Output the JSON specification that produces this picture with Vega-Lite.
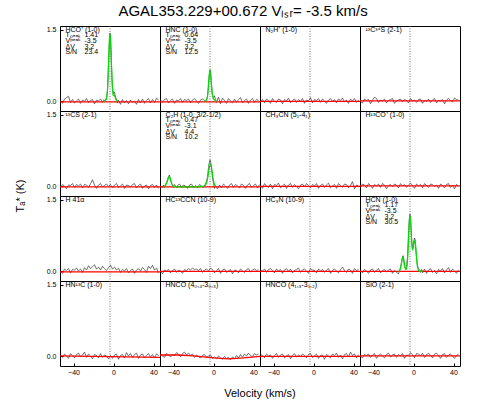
{
"$schema":"https://vega.github.io/schema/vega-lite/v6.json",
"background":"white",
"padding":{"left":15,"top":4,"right":5,"bottom":5},
"bounds":"flush",
"title":{"text":"AGAL353.229+00.672  Vₗₛᵣ= -3.5 km/s","fontSize":15,"font":"Liberation Sans","fontWeight":"normal","anchor":"middle","dx":4,"color":"#000","offset":6},
"data":{"values":[
{"p":0,"v":-53,"t":0.02},{"p":0,"v":-51,"t":-0.04},{"p":0,"v":-49,"t":0.05},{"p":0,"v":-47,"t":0.08},{"p":0,"v":-45,"t":0.11},{"p":0,"v":-43,"t":-0.02},{"p":0,"v":-41,"t":0.04},{"p":0,"v":-39,"t":-0.03},{"p":0,"v":-37,"t":0.01},{"p":0,"v":-35,"t":0.05},{"p":0,"v":-33,"t":-0.04},{"p":0,"v":-31,"t":0.03},{"p":0,"v":-29,"t":0.0},{"p":0,"v":-27,"t":0.06},{"p":0,"v":-25,"t":-0.03},{"p":0,"v":-23,"t":0.02},{"p":0,"v":-21,"t":0.04},{"p":0,"v":-19,"t":-0.05},{"p":0,"v":-17,"t":0.03},{"p":0,"v":-15,"t":0.01},{"p":0,"v":-13,"t":0.05},
{"p":0,"v":-11,"t":-0.02},{"p":0,"v":-10,"t":0.03},{"p":0,"v":-9,"t":0.01},{"p":0,"v":-8,"t":0.04},{"p":0,"v":-7,"t":0.08},{"p":0,"v":-6,"t":0.22},{"p":0,"v":-5.5,"t":0.45},{"p":0,"v":-5,"t":0.78},{"p":0,"v":-4.5,"t":1.05},{"p":0,"v":-4,"t":1.33},{"p":0,"v":-3.5,"t":1.43},{"p":0,"v":-3,"t":1.3},{"p":0,"v":-2.5,"t":1.06},{"p":0,"v":-2,"t":0.74},{"p":0,"v":-1.5,"t":0.47},{"p":0,"v":-1,"t":0.28},{"p":0,"v":0,"t":0.16},{"p":0,"v":1,"t":0.2},{"p":0,"v":2,"t":0.09},{"p":0,"v":3,"t":0.05},{"p":0,"v":4,"t":-0.03},{"p":0,"v":5,"t":0.02},
{"p":0,"v":7,"t":-0.06},{"p":0,"v":9,"t":0.04},{"p":0,"v":11,"t":-0.03},{"p":0,"v":13,"t":0.02},{"p":0,"v":15,"t":-0.05},{"p":0,"v":17,"t":0.03},{"p":0,"v":19,"t":-0.02},{"p":0,"v":21,"t":0.01},{"p":0,"v":23,"t":-0.06},{"p":0,"v":25,"t":0.04},{"p":0,"v":27,"t":-0.03},{"p":0,"v":29,"t":0.05},{"p":0,"v":31,"t":-0.04},{"p":0,"v":33,"t":0.02},{"p":0,"v":35,"t":0.06},{"p":0,"v":37,"t":-0.03},{"p":0,"v":39,"t":0.04},{"p":0,"v":41,"t":-0.02},{"p":0,"v":43,"t":0.07},{"p":0,"v":45,"t":0.03},
{"p":0,"v":-10,"f":0.0},{"p":0,"v":-9,"f":0.01},{"p":0,"v":-8,"f":0.02},{"p":0,"v":-7,"f":0.05},{"p":0,"v":-6.5,"f":0.12},{"p":0,"v":-6,"f":0.26},{"p":0,"v":-5.5,"f":0.48},{"p":0,"v":-5,"f":0.77},{"p":0,"v":-4.5,"f":1.07},{"p":0,"v":-4,"f":1.32},{"p":0,"v":-3.5,"f":1.41},{"p":0,"v":-3,"f":1.32},{"p":0,"v":-2.5,"f":1.07},{"p":0,"v":-2,"f":0.77},{"p":0,"v":-1.5,"f":0.48},{"p":0,"v":-1,"f":0.26},{"p":0,"v":-0.5,"f":0.15},{"p":0,"v":0,"f":0.12},{"p":0,"v":0.5,"f":0.12},{"p":0,"v":1,"f":0.13},{"p":0,"v":1.5,"f":0.1},{"p":0,"v":2,"f":0.06},{"p":0,"v":3,"f":0.02},{"p":0,"v":4,"f":0.0},

{"p":1,"v":-53,"t":0.03},{"p":1,"v":-51,"t":-0.02},{"p":1,"v":-49,"t":0.04},{"p":1,"v":-47,"t":0.06},{"p":1,"v":-45,"t":-0.03},{"p":1,"v":-43,"t":0.02},{"p":1,"v":-41,"t":0.05},{"p":1,"v":-39,"t":-0.04},{"p":1,"v":-37,"t":0.03},{"p":1,"v":-35,"t":0.01},{"p":1,"v":-33,"t":0.06},{"p":1,"v":-31,"t":-0.02},{"p":1,"v":-29,"t":0.04},{"p":1,"v":-27,"t":0.02},{"p":1,"v":-25,"t":0.05},{"p":1,"v":-23,"t":-0.03},{"p":1,"v":-21,"t":0.03},{"p":1,"v":-19,"t":0.06},{"p":1,"v":-17,"t":0.01},{"p":1,"v":-15,"t":-0.04},{"p":1,"v":-13,"t":0.03},{"p":1,"v":-11,"t":0.05},
{"p":1,"v":-9,"t":0.02},{"p":1,"v":-8,"t":-0.01},{"p":1,"v":-7,"t":0.04},{"p":1,"v":-6,"t":0.1},{"p":1,"v":-5.5,"t":0.2},{"p":1,"v":-5,"t":0.34},{"p":1,"v":-4.5,"t":0.49},{"p":1,"v":-4,"t":0.6},{"p":1,"v":-3.5,"t":0.66},{"p":1,"v":-3,"t":0.58},{"p":1,"v":-2.5,"t":0.47},{"p":1,"v":-2,"t":0.33},{"p":1,"v":-1.5,"t":0.21},{"p":1,"v":-1,"t":0.13},{"p":1,"v":0,"t":0.08},{"p":1,"v":1,"t":0.12},{"p":1,"v":2,"t":0.04},{"p":1,"v":3,"t":-0.02},
{"p":1,"v":5,"t":0.09},{"p":1,"v":7,"t":-0.05},{"p":1,"v":9,"t":0.07},{"p":1,"v":11,"t":0.02},{"p":1,"v":13,"t":-0.04},{"p":1,"v":15,"t":0.06},{"p":1,"v":17,"t":0.01},{"p":1,"v":19,"t":-0.03},{"p":1,"v":21,"t":0.05},{"p":1,"v":23,"t":-0.02},{"p":1,"v":25,"t":0.04},{"p":1,"v":27,"t":0.08},{"p":1,"v":29,"t":-0.03},{"p":1,"v":31,"t":0.02},{"p":1,"v":33,"t":0.05},{"p":1,"v":35,"t":-0.04},{"p":1,"v":37,"t":0.03},{"p":1,"v":39,"t":0.06},{"p":1,"v":41,"t":-0.02},{"p":1,"v":43,"t":0.04},{"p":1,"v":45,"t":0.02},
{"p":1,"v":-9,"f":0.0},{"p":1,"v":-8,"f":0.01},{"p":1,"v":-7,"f":0.03},{"p":1,"v":-6.5,"f":0.05},{"p":1,"v":-6,"f":0.12},{"p":1,"v":-5.5,"f":0.22},{"p":1,"v":-5,"f":0.35},{"p":1,"v":-4.5,"f":0.49},{"p":1,"v":-4,"f":0.6},{"p":1,"v":-3.5,"f":0.64},{"p":1,"v":-3,"f":0.6},{"p":1,"v":-2.5,"f":0.49},{"p":1,"v":-2,"f":0.35},{"p":1,"v":-1.5,"f":0.22},{"p":1,"v":-1,"f":0.12},{"p":1,"v":-0.5,"f":0.07},{"p":1,"v":0,"f":0.05},{"p":1,"v":1,"f":0.04},{"p":1,"v":2,"f":0.01},{"p":1,"v":3,"f":0.0},

{"p":2,"v":-53,"t":0.01},{"p":2,"v":-51,"t":0.04},{"p":2,"v":-49,"t":-0.03},{"p":2,"v":-47,"t":0.05},{"p":2,"v":-45,"t":0.02},{"p":2,"v":-43,"t":-0.04},{"p":2,"v":-41,"t":0.06},{"p":2,"v":-39,"t":0.0},{"p":2,"v":-37,"t":-0.02},{"p":2,"v":-35,"t":0.05},{"p":2,"v":-33,"t":0.03},{"p":2,"v":-31,"t":-0.05},{"p":2,"v":-29,"t":0.04},{"p":2,"v":-27,"t":0.01},{"p":2,"v":-25,"t":0.07},{"p":2,"v":-23,"t":-0.03},{"p":2,"v":-21,"t":0.02},{"p":2,"v":-19,"t":0.05},{"p":2,"v":-17,"t":-0.02},{"p":2,"v":-15,"t":0.04},{"p":2,"v":-13,"t":0.0},{"p":2,"v":-11,"t":0.06},{"p":2,"v":-9,"t":-0.04},{"p":2,"v":-7,"t":0.03},{"p":2,"v":-5,"t":0.01},{"p":2,"v":-3,"t":0.08},{"p":2,"v":-1,"t":-0.03},{"p":2,"v":1,"t":0.04},{"p":2,"v":3,"t":0.02},{"p":2,"v":5,"t":0.06},{"p":2,"v":7,"t":-0.02},{"p":2,"v":9,"t":0.05},{"p":2,"v":11,"t":0.01},{"p":2,"v":13,"t":-0.04},{"p":2,"v":15,"t":0.03},{"p":2,"v":17,"t":0.06},{"p":2,"v":19,"t":0.0},{"p":2,"v":21,"t":0.04},{"p":2,"v":23,"t":-0.03},{"p":2,"v":25,"t":0.05},{"p":2,"v":27,"t":0.02},{"p":2,"v":29,"t":0.07},{"p":2,"v":31,"t":-0.01},{"p":2,"v":33,"t":0.03},{"p":2,"v":35,"t":-0.04},{"p":2,"v":37,"t":0.05},{"p":2,"v":39,"t":0.01},{"p":2,"v":41,"t":0.06},{"p":2,"v":43,"t":-0.02},{"p":2,"v":45,"t":0.03},

{"p":3,"v":-53,"t":0.0},{"p":3,"v":-51,"t":-0.03},{"p":3,"v":-49,"t":0.05},{"p":3,"v":-47,"t":0.02},{"p":3,"v":-45,"t":0.04},{"p":3,"v":-43,"t":-0.05},{"p":3,"v":-41,"t":0.03},{"p":3,"v":-39,"t":0.09},{"p":3,"v":-37,"t":0.06},{"p":3,"v":-35,"t":-0.02},{"p":3,"v":-33,"t":0.03},{"p":3,"v":-31,"t":0.01},{"p":3,"v":-29,"t":0.05},{"p":3,"v":-27,"t":-0.03},{"p":3,"v":-25,"t":0.02},{"p":3,"v":-23,"t":0.04},{"p":3,"v":-21,"t":0.06},{"p":3,"v":-19,"t":-0.04},{"p":3,"v":-17,"t":0.01},{"p":3,"v":-15,"t":0.03},{"p":3,"v":-13,"t":0.05},{"p":3,"v":-11,"t":-0.01},{"p":3,"v":-9,"t":0.04},{"p":3,"v":-7,"t":0.02},{"p":3,"v":-5,"t":-0.03},{"p":3,"v":-3,"t":0.06},{"p":3,"v":-1,"t":0.01},{"p":3,"v":1,"t":0.03},{"p":3,"v":3,"t":-0.02},{"p":3,"v":5,"t":0.04},{"p":3,"v":7,"t":0.05},{"p":3,"v":9,"t":-0.04},{"p":3,"v":11,"t":0.02},{"p":3,"v":13,"t":0.0},{"p":3,"v":15,"t":0.05},{"p":3,"v":17,"t":-0.02},{"p":3,"v":19,"t":0.03},{"p":3,"v":21,"t":0.06},{"p":3,"v":23,"t":-0.03},{"p":3,"v":25,"t":0.02},{"p":3,"v":27,"t":0.01},{"p":3,"v":29,"t":0.04},{"p":3,"v":31,"t":-0.05},{"p":3,"v":33,"t":0.03},{"p":3,"v":35,"t":0.06},{"p":3,"v":37,"t":0.02},{"p":3,"v":39,"t":-0.01},{"p":3,"v":41,"t":0.07},{"p":3,"v":43,"t":0.04},{"p":3,"v":45,"t":0.03},

{"p":4,"v":-53,"t":-0.03},{"p":4,"v":-51,"t":0.04},{"p":4,"v":-49,"t":0.01},{"p":4,"v":-47,"t":-0.05},{"p":4,"v":-45,"t":0.03},{"p":4,"v":-43,"t":0.02},{"p":4,"v":-41,"t":0.06},{"p":4,"v":-39,"t":-0.02},{"p":4,"v":-37,"t":0.04},{"p":4,"v":-35,"t":0.01},{"p":4,"v":-33,"t":0.05},{"p":4,"v":-31,"t":-0.03},{"p":4,"v":-29,"t":0.04},{"p":4,"v":-27,"t":0.03},{"p":4,"v":-25,"t":-0.02},{"p":4,"v":-23,"t":0.06},{"p":4,"v":-21,"t":0.14},{"p":4,"v":-19,"t":0.03},{"p":4,"v":-17,"t":-0.04},{"p":4,"v":-15,"t":0.03},{"p":4,"v":-13,"t":0.06},{"p":4,"v":-11,"t":-0.01},{"p":4,"v":-9,"t":0.02},{"p":4,"v":-7,"t":0.05},{"p":4,"v":-5,"t":0.0},{"p":4,"v":-3,"t":0.04},{"p":4,"v":-1,"t":-0.03},{"p":4,"v":1,"t":0.03},{"p":4,"v":3,"t":0.06},{"p":4,"v":5,"t":-0.02},{"p":4,"v":7,"t":0.01},{"p":4,"v":9,"t":0.05},{"p":4,"v":11,"t":-0.04},{"p":4,"v":13,"t":0.03},{"p":4,"v":15,"t":0.02},{"p":4,"v":17,"t":-0.01},{"p":4,"v":19,"t":0.04},{"p":4,"v":21,"t":0.06},{"p":4,"v":23,"t":-0.03},{"p":4,"v":25,"t":0.02},{"p":4,"v":27,"t":0.05},{"p":4,"v":29,"t":-0.04},{"p":4,"v":31,"t":0.01},{"p":4,"v":33,"t":0.03},{"p":4,"v":35,"t":-0.05},{"p":4,"v":37,"t":0.02},{"p":4,"v":39,"t":0.04},{"p":4,"v":41,"t":-0.02},{"p":4,"v":43,"t":0.03},{"p":4,"v":45,"t":-0.04},

{"p":5,"v":-53,"t":0.02},{"p":5,"v":-51,"t":-0.03},{"p":5,"v":-50,"t":0.03},{"p":5,"v":-49,"t":-0.02},{"p":5,"v":-48,"t":0.04},{"p":5,"v":-47,"t":0.08},{"p":5,"v":-46,"t":0.14},{"p":5,"v":-45,"t":0.21},{"p":5,"v":-44,"t":0.24},{"p":5,"v":-43,"t":0.15},{"p":5,"v":-42,"t":0.07},{"p":5,"v":-41,"t":0.03},{"p":5,"v":-40,"t":-0.02},{"p":5,"v":-39,"t":0.04},{"p":5,"v":-38,"t":0.01},{"p":5,"v":-37,"t":-0.03},{"p":5,"v":-36,"t":0.02},{"p":5,"v":-34,"t":0.05},{"p":5,"v":-32,"t":-0.02},{"p":5,"v":-30,"t":0.03},{"p":5,"v":-28,"t":0.01},{"p":5,"v":-26,"t":-0.04},{"p":5,"v":-24,"t":0.03},{"p":5,"v":-22,"t":0.05},{"p":5,"v":-20,"t":-0.02},{"p":5,"v":-18,"t":0.02},{"p":5,"v":-16,"t":-0.03},{"p":5,"v":-14,"t":0.04},{"p":5,"v":-12,"t":0.01},
{"p":5,"v":-10,"t":-0.02},{"p":5,"v":-9,"t":0.03},{"p":5,"v":-8,"t":0.05},{"p":5,"v":-7,"t":0.1},{"p":5,"v":-6,"t":0.21},{"p":5,"v":-5.5,"t":0.3},{"p":5,"v":-5,"t":0.4},{"p":5,"v":-4.5,"t":0.47},{"p":5,"v":-4,"t":0.52},{"p":5,"v":-3.5,"t":0.56},{"p":5,"v":-3,"t":0.54},{"p":5,"v":-2.5,"t":0.46},{"p":5,"v":-2,"t":0.37},{"p":5,"v":-1.5,"t":0.27},{"p":5,"v":-1,"t":0.18},{"p":5,"v":0,"t":0.07},{"p":5,"v":1,"t":-0.04},{"p":5,"v":2,"t":0.02},
{"p":5,"v":4,"t":-0.05},{"p":5,"v":6,"t":0.03},{"p":5,"v":8,"t":-0.03},{"p":5,"v":10,"t":0.05},{"p":5,"v":12,"t":0.01},{"p":5,"v":14,"t":-0.04},{"p":5,"v":16,"t":0.03},{"p":5,"v":18,"t":0.06},{"p":5,"v":20,"t":-0.02},{"p":5,"v":22,"t":0.04},{"p":5,"v":24,"t":0.01},{"p":5,"v":26,"t":-0.03},{"p":5,"v":28,"t":0.05},{"p":5,"v":30,"t":0.02},{"p":5,"v":32,"t":-0.04},{"p":5,"v":34,"t":0.03},{"p":5,"v":36,"t":0.06},{"p":5,"v":38,"t":-0.02},{"p":5,"v":40,"t":0.02},{"p":5,"v":42,"t":0.05},{"p":5,"v":44,"t":-0.03},{"p":5,"v":46,"t":0.04},
{"p":5,"v":-50,"f":0.0},{"p":5,"v":-48,"f":0.02},{"p":5,"v":-47,"f":0.06},{"p":5,"v":-46,"f":0.12},{"p":5,"v":-45,"f":0.18},{"p":5,"v":-44.5,"f":0.2},{"p":5,"v":-44,"f":0.2},{"p":5,"v":-43.5,"f":0.18},{"p":5,"v":-43,"f":0.14},{"p":5,"v":-42,"f":0.07},{"p":5,"v":-41,"f":0.02},{"p":5,"v":-40,"f":0.0},{"p":5,"v":-36,"f":-0.01},{"p":5,"v":-20,"f":-0.01},{"p":5,"v":-10,"f":0.0},{"p":5,"v":-8,"f":0.03},{"p":5,"v":-7,"f":0.07},{"p":5,"v":-6,"f":0.15},{"p":5,"v":-5.5,"f":0.21},{"p":5,"v":-5,"f":0.28},{"p":5,"v":-4.5,"f":0.35},{"p":5,"v":-4,"f":0.41},{"p":5,"v":-3.5,"f":0.45},{"p":5,"v":-3.1,"f":0.47},{"p":5,"v":-2.5,"f":0.45},{"p":5,"v":-2,"f":0.4},{"p":5,"v":-1.5,"f":0.33},{"p":5,"v":-1,"f":0.25},{"p":5,"v":-0.5,"f":0.18},{"p":5,"v":0,"f":0.12},{"p":5,"v":1,"f":0.04},{"p":5,"v":2,"f":0.0},

{"p":6,"v":-53,"t":0.03},{"p":6,"v":-51,"t":-0.04},{"p":6,"v":-49,"t":0.06},{"p":6,"v":-47,"t":0.01},{"p":6,"v":-45,"t":-0.02},{"p":6,"v":-43,"t":0.05},{"p":6,"v":-41,"t":-0.05},{"p":6,"v":-39,"t":0.04},{"p":6,"v":-37,"t":0.02},{"p":6,"v":-35,"t":0.07},{"p":6,"v":-33,"t":-0.03},{"p":6,"v":-31,"t":0.01},{"p":6,"v":-29,"t":0.05},{"p":6,"v":-27,"t":-0.04},{"p":6,"v":-25,"t":0.03},{"p":6,"v":-23,"t":0.06},{"p":6,"v":-21,"t":-0.02},{"p":6,"v":-19,"t":0.04},{"p":6,"v":-17,"t":0.0},{"p":6,"v":-15,"t":-0.05},{"p":6,"v":-13,"t":0.03},{"p":6,"v":-11,"t":0.05},{"p":6,"v":-9,"t":-0.01},{"p":6,"v":-7,"t":0.06},{"p":6,"v":-5,"t":0.02},{"p":6,"v":-3,"t":-0.03},{"p":6,"v":-1,"t":0.04},{"p":6,"v":1,"t":0.01},{"p":6,"v":3,"t":0.06},{"p":6,"v":5,"t":-0.04},{"p":6,"v":7,"t":0.02},{"p":6,"v":9,"t":0.05},{"p":6,"v":11,"t":-0.02},{"p":6,"v":13,"t":0.03},{"p":6,"v":15,"t":0.07},{"p":6,"v":17,"t":-0.03},{"p":6,"v":19,"t":0.01},{"p":6,"v":21,"t":0.04},{"p":6,"v":23,"t":-0.04},{"p":6,"v":25,"t":0.06},{"p":6,"v":27,"t":0.02},{"p":6,"v":29,"t":-0.02},{"p":6,"v":31,"t":0.05},{"p":6,"v":33,"t":0.04},{"p":6,"v":35,"t":-0.03},{"p":6,"v":37,"t":0.02},{"p":6,"v":39,"t":0.1},{"p":6,"v":41,"t":-0.05},{"p":6,"v":43,"t":0.03},{"p":6,"v":45,"t":0.01},

{"p":7,"v":-53,"t":-0.02},{"p":7,"v":-51,"t":0.05},{"p":7,"v":-49,"t":0.03},{"p":7,"v":-47,"t":-0.03},{"p":7,"v":-45,"t":0.06},{"p":7,"v":-43,"t":0.02},{"p":7,"v":-41,"t":-0.04},{"p":7,"v":-39,"t":0.04},{"p":7,"v":-37,"t":0.01},{"p":7,"v":-35,"t":0.05},{"p":7,"v":-33,"t":-0.02},{"p":7,"v":-31,"t":0.06},{"p":7,"v":-29,"t":0.03},{"p":7,"v":-27,"t":-0.05},{"p":7,"v":-25,"t":0.02},{"p":7,"v":-23,"t":0.04},{"p":7,"v":-21,"t":-0.01},{"p":7,"v":-19,"t":0.05},{"p":7,"v":-17,"t":0.03},{"p":7,"v":-15,"t":-0.03},{"p":7,"v":-13,"t":0.06},{"p":7,"v":-11,"t":0.01},{"p":7,"v":-9,"t":0.04},{"p":7,"v":-7,"t":-0.02},{"p":7,"v":-5,"t":0.03},{"p":7,"v":-3,"t":0.07},{"p":7,"v":-1,"t":0.02},{"p":7,"v":1,"t":-0.04},{"p":7,"v":3,"t":0.05},{"p":7,"v":5,"t":0.01},{"p":7,"v":7,"t":0.04},{"p":7,"v":9,"t":-0.03},{"p":7,"v":11,"t":0.06},{"p":7,"v":13,"t":0.02},{"p":7,"v":15,"t":-0.02},{"p":7,"v":17,"t":0.05},{"p":7,"v":19,"t":0.04},{"p":7,"v":21,"t":0.0},{"p":7,"v":23,"t":0.03},{"p":7,"v":25,"t":-0.04},{"p":7,"v":27,"t":0.05},{"p":7,"v":29,"t":0.02},{"p":7,"v":31,"t":-0.03},{"p":7,"v":33,"t":0.04},{"p":7,"v":35,"t":0.06},{"p":7,"v":37,"t":-0.02},{"p":7,"v":39,"t":0.03},{"p":7,"v":41,"t":-0.05},{"p":7,"v":43,"t":0.04},{"p":7,"v":45,"t":0.01},

{"p":8,"v":-53,"t":0.01},{"p":8,"v":-51,"t":-0.04},{"p":8,"v":-49,"t":0.05},{"p":8,"v":-47,"t":0.02},{"p":8,"v":-45,"t":0.06},{"p":8,"v":-43,"t":-0.03},{"p":8,"v":-41,"t":0.04},{"p":8,"v":-39,"t":0.03},{"p":8,"v":-37,"t":0.07},{"p":8,"v":-35,"t":0.01},{"p":8,"v":-33,"t":0.05},{"p":8,"v":-31,"t":-0.02},{"p":8,"v":-29,"t":0.08},{"p":8,"v":-27,"t":0.03},{"p":8,"v":-25,"t":0.12},{"p":8,"v":-23,"t":0.06},{"p":8,"v":-21,"t":0.1},{"p":8,"v":-19,"t":0.14},{"p":8,"v":-17,"t":0.05},{"p":8,"v":-15,"t":0.09},{"p":8,"v":-13,"t":0.03},{"p":8,"v":-11,"t":0.11},{"p":8,"v":-9,"t":0.06},{"p":8,"v":-7,"t":0.02},{"p":8,"v":-5,"t":0.08},{"p":8,"v":-3,"t":0.13},{"p":8,"v":-1,"t":0.05},{"p":8,"v":1,"t":0.09},{"p":8,"v":3,"t":0.03},{"p":8,"v":5,"t":0.07},{"p":8,"v":7,"t":-0.02},{"p":8,"v":9,"t":0.04},{"p":8,"v":11,"t":0.01},{"p":8,"v":13,"t":0.06},{"p":8,"v":15,"t":-0.03},{"p":8,"v":17,"t":0.02},{"p":8,"v":19,"t":0.05},{"p":8,"v":21,"t":-0.04},{"p":8,"v":23,"t":0.03},{"p":8,"v":25,"t":0.06},{"p":8,"v":27,"t":0.01},{"p":8,"v":29,"t":0.08},{"p":8,"v":31,"t":0.04},{"p":8,"v":33,"t":-0.02},{"p":8,"v":35,"t":0.11},{"p":8,"v":37,"t":0.06},{"p":8,"v":39,"t":0.13},{"p":8,"v":41,"t":0.03},{"p":8,"v":43,"t":0.07},{"p":8,"v":45,"t":-0.03},

{"p":9,"v":-53,"t":0.02},{"p":9,"v":-51,"t":-0.05},{"p":9,"v":-49,"t":0.03},{"p":9,"v":-47,"t":0.01},{"p":9,"v":-45,"t":0.04},{"p":9,"v":-43,"t":-0.03},{"p":9,"v":-41,"t":0.02},{"p":9,"v":-39,"t":0.05},{"p":9,"v":-37,"t":-0.02},{"p":9,"v":-35,"t":0.03},{"p":9,"v":-33,"t":0.01},{"p":9,"v":-31,"t":-0.04},{"p":9,"v":-29,"t":0.04},{"p":9,"v":-27,"t":0.02},{"p":9,"v":-25,"t":0.06},{"p":9,"v":-23,"t":0.03},{"p":9,"v":-21,"t":0.07},{"p":9,"v":-19,"t":0.04},{"p":9,"v":-17,"t":0.05},{"p":9,"v":-15,"t":0.02},{"p":9,"v":-13,"t":0.06},{"p":9,"v":-11,"t":-0.02},{"p":9,"v":-9,"t":0.03},{"p":9,"v":-7,"t":0.05},{"p":9,"v":-5,"t":0.01},{"p":9,"v":-3,"t":0.07},{"p":9,"v":-1,"t":0.04},{"p":9,"v":1,"t":-0.03},{"p":9,"v":3,"t":0.02},{"p":9,"v":5,"t":0.06},{"p":9,"v":7,"t":-0.04},{"p":9,"v":9,"t":0.03},{"p":9,"v":11,"t":0.05},{"p":9,"v":13,"t":-0.02},{"p":9,"v":15,"t":0.01},{"p":9,"v":17,"t":0.04},{"p":9,"v":19,"t":-0.05},{"p":9,"v":21,"t":0.03},{"p":9,"v":23,"t":0.02},{"p":9,"v":25,"t":-0.03},{"p":9,"v":27,"t":0.05},{"p":9,"v":29,"t":0.01},{"p":9,"v":31,"t":-0.02},{"p":9,"v":33,"t":0.04},{"p":9,"v":35,"t":0.06},{"p":9,"v":37,"t":-0.01},{"p":9,"v":39,"t":0.03},{"p":9,"v":41,"t":0.05},{"p":9,"v":43,"t":0.02},{"p":9,"v":45,"t":0.04},

{"p":10,"v":-53,"t":0.03},{"p":10,"v":-51,"t":0.01},{"p":10,"v":-49,"t":0.05},{"p":10,"v":-47,"t":-0.02},{"p":10,"v":-45,"t":0.04},{"p":10,"v":-43,"t":0.06},{"p":10,"v":-41,"t":0.02},{"p":10,"v":-39,"t":-0.03},{"p":10,"v":-37,"t":0.05},{"p":10,"v":-35,"t":0.01},{"p":10,"v":-33,"t":0.04},{"p":10,"v":-31,"t":-0.04},{"p":10,"v":-29,"t":0.03},{"p":10,"v":-27,"t":0.06},{"p":10,"v":-25,"t":0.0},{"p":10,"v":-23,"t":0.05},{"p":10,"v":-21,"t":-0.03},{"p":10,"v":-19,"t":0.02},{"p":10,"v":-17,"t":0.04},{"p":10,"v":-15,"t":0.07},{"p":10,"v":-13,"t":-0.02},{"p":10,"v":-11,"t":0.03},{"p":10,"v":-9,"t":0.05},{"p":10,"v":-7,"t":0.01},{"p":10,"v":-5,"t":-0.04},{"p":10,"v":-3,"t":0.06},{"p":10,"v":-1,"t":0.03},{"p":10,"v":1,"t":0.02},{"p":10,"v":3,"t":-0.03},{"p":10,"v":5,"t":0.05},{"p":10,"v":7,"t":0.01},{"p":10,"v":9,"t":0.04},{"p":10,"v":11,"t":-0.02},{"p":10,"v":13,"t":0.03},{"p":10,"v":15,"t":0.06},{"p":10,"v":17,"t":-0.04},{"p":10,"v":19,"t":0.02},{"p":10,"v":21,"t":0.05},{"p":10,"v":23,"t":0.01},{"p":10,"v":25,"t":-0.03},{"p":10,"v":27,"t":0.04},{"p":10,"v":29,"t":0.09},{"p":10,"v":31,"t":0.02},{"p":10,"v":33,"t":-0.02},{"p":10,"v":35,"t":0.05},{"p":10,"v":37,"t":0.03},{"p":10,"v":39,"t":-0.04},{"p":10,"v":41,"t":0.06},{"p":10,"v":43,"t":0.02},{"p":10,"v":45,"t":0.04},

{"p":11,"v":-53,"t":0.02},{"p":11,"v":-51,"t":-0.03},{"p":11,"v":-49,"t":0.04},{"p":11,"v":-47,"t":0.01},{"p":11,"v":-45,"t":-0.04},{"p":11,"v":-43,"t":0.03},{"p":11,"v":-41,"t":0.05},{"p":11,"v":-39,"t":-0.02},{"p":11,"v":-37,"t":0.03},{"p":11,"v":-35,"t":0.06},{"p":11,"v":-33,"t":-0.03},{"p":11,"v":-31,"t":0.02},{"p":11,"v":-29,"t":0.04},{"p":11,"v":-27,"t":-0.01},{"p":11,"v":-25,"t":0.03},{"p":11,"v":-23,"t":0.05},{"p":11,"v":-21,"t":-0.04},{"p":11,"v":-19,"t":0.02},{"p":11,"v":-17,"t":-0.02},
{"p":11,"v":-15,"t":-0.05},{"p":11,"v":-14,"t":0.02},{"p":11,"v":-13,"t":0.08},{"p":11,"v":-12,"t":0.18},{"p":11,"v":-11.5,"t":0.25},{"p":11,"v":-11,"t":0.3},{"p":11,"v":-10.5,"t":0.33},{"p":11,"v":-10,"t":0.28},{"p":11,"v":-9.5,"t":0.18},{"p":11,"v":-9,"t":0.1},{"p":11,"v":-8,"t":0.06},{"p":11,"v":-7,"t":0.1},{"p":11,"v":-6,"t":0.3},{"p":11,"v":-5.5,"t":0.55},{"p":11,"v":-5,"t":0.8},{"p":11,"v":-4.5,"t":1.0},{"p":11,"v":-4,"t":1.15},{"p":11,"v":-3.5,"t":1.2},{"p":11,"v":-3,"t":1.1},{"p":11,"v":-2.5,"t":0.92},{"p":11,"v":-2,"t":0.72},{"p":11,"v":-1.5,"t":0.56},{"p":11,"v":-1,"t":0.52},{"p":11,"v":-0.5,"t":0.55},{"p":11,"v":0,"t":0.6},{"p":11,"v":0.5,"t":0.66},{"p":11,"v":1,"t":0.7},{"p":11,"v":1.5,"t":0.68},{"p":11,"v":2,"t":0.55},{"p":11,"v":2.5,"t":0.42},{"p":11,"v":3,"t":0.3},{"p":11,"v":3.5,"t":0.2},{"p":11,"v":4,"t":0.12},{"p":11,"v":5,"t":0.06},{"p":11,"v":6,"t":0.03},{"p":11,"v":7,"t":-0.02},{"p":11,"v":8,"t":0.04},{"p":11,"v":9,"t":-0.03},
{"p":11,"v":11,"t":0.05},{"p":11,"v":13,"t":-0.04},{"p":11,"v":15,"t":0.03},{"p":11,"v":17,"t":0.06},{"p":11,"v":19,"t":-0.02},{"p":11,"v":21,"t":0.02},{"p":11,"v":23,"t":-0.05},{"p":11,"v":25,"t":0.04},{"p":11,"v":27,"t":0.01},{"p":11,"v":29,"t":0.06},{"p":11,"v":31,"t":-0.03},{"p":11,"v":33,"t":0.03},{"p":11,"v":35,"t":0.08},{"p":11,"v":37,"t":-0.02},{"p":11,"v":39,"t":0.05},{"p":11,"v":41,"t":0.01},{"p":11,"v":43,"t":-0.04},{"p":11,"v":45,"t":0.03},
{"p":11,"v":-15,"f":0.0},{"p":11,"v":-14,"f":0.01},{"p":11,"v":-13,"f":0.06},{"p":11,"v":-12.5,"f":0.11},{"p":11,"v":-12,"f":0.18},{"p":11,"v":-11.5,"f":0.24},{"p":11,"v":-11,"f":0.29},{"p":11,"v":-10.5,"f":0.3},{"p":11,"v":-10,"f":0.27},{"p":11,"v":-9.5,"f":0.22},{"p":11,"v":-9,"f":0.15},{"p":11,"v":-8.5,"f":0.09},{"p":11,"v":-8,"f":0.05},{"p":11,"v":-7.5,"f":0.04},{"p":11,"v":-7,"f":0.05},{"p":11,"v":-6.5,"f":0.11},{"p":11,"v":-6,"f":0.22},{"p":11,"v":-5.5,"f":0.4},{"p":11,"v":-5,"f":0.64},{"p":11,"v":-4.5,"f":0.89},{"p":11,"v":-4,"f":1.09},{"p":11,"v":-3.5,"f":1.17},{"p":11,"v":-3,"f":1.1},{"p":11,"v":-2.5,"f":0.91},{"p":11,"v":-2,"f":0.68},{"p":11,"v":-1.5,"f":0.52},{"p":11,"v":-1,"f":0.46},{"p":11,"v":-0.5,"f":0.47},{"p":11,"v":0,"f":0.52},{"p":11,"v":0.5,"f":0.6},{"p":11,"v":1,"f":0.64},{"p":11,"v":1.5,"f":0.64},{"p":11,"v":2,"f":0.57},{"p":11,"v":2.5,"f":0.44},{"p":11,"v":3,"f":0.3},{"p":11,"v":3.5,"f":0.18},{"p":11,"v":4,"f":0.09},{"p":11,"v":5,"f":0.02},{"p":11,"v":6,"f":0.0},{"p":11,"v":9,"f":0.0},

{"p":12,"v":-53,"t":0.03},{"p":12,"v":-51,"t":-0.02},{"p":12,"v":-49,"t":0.05},{"p":12,"v":-47,"t":0.01},{"p":12,"v":-45,"t":-0.04},{"p":12,"v":-43,"t":0.06},{"p":12,"v":-41,"t":0.02},{"p":12,"v":-39,"t":-0.03},{"p":12,"v":-37,"t":0.04},{"p":12,"v":-35,"t":0.07},{"p":12,"v":-33,"t":-0.01},{"p":12,"v":-31,"t":0.03},{"p":12,"v":-29,"t":0.09},{"p":12,"v":-27,"t":-0.02},{"p":12,"v":-25,"t":0.05},{"p":12,"v":-23,"t":0.01},{"p":12,"v":-21,"t":-0.05},{"p":12,"v":-19,"t":0.04},{"p":12,"v":-17,"t":0.02},{"p":12,"v":-15,"t":-0.03},{"p":12,"v":-13,"t":0.06},{"p":12,"v":-11,"t":-0.02},{"p":12,"v":-9,"t":0.03},{"p":12,"v":-7,"t":0.01},{"p":12,"v":-5,"t":-0.05},{"p":12,"v":-3,"t":0.02},{"p":12,"v":-1,"t":-0.04},{"p":12,"v":1,"t":0.03},{"p":12,"v":3,"t":0.05},{"p":12,"v":5,"t":-0.06},{"p":12,"v":7,"t":0.02},{"p":12,"v":9,"t":0.04},{"p":12,"v":11,"t":-0.03},{"p":12,"v":13,"t":0.08},{"p":12,"v":15,"t":0.01},{"p":12,"v":17,"t":0.06},{"p":12,"v":19,"t":-0.02},{"p":12,"v":21,"t":0.04},{"p":12,"v":23,"t":0.07},{"p":12,"v":25,"t":-0.04},{"p":12,"v":27,"t":0.03},{"p":12,"v":29,"t":0.05},{"p":12,"v":31,"t":-0.03},{"p":12,"v":33,"t":0.02},{"p":12,"v":35,"t":0.06},{"p":12,"v":37,"t":-0.01},{"p":12,"v":39,"t":0.04},{"p":12,"v":41,"t":-0.03},{"p":12,"v":43,"t":0.05},{"p":12,"v":45,"t":0.02},

{"p":13,"v":-53,"t":0.05},{"p":13,"v":-51,"t":0.01},{"p":13,"v":-49,"t":-0.02},{"p":13,"v":-47,"t":0.06},{"p":13,"v":-45,"t":0.03},{"p":13,"v":-43,"t":-0.01},{"p":13,"v":-41,"t":0.04},{"p":13,"v":-39,"t":0.02},{"p":13,"v":-37,"t":0.08},{"p":13,"v":-35,"t":0.05},{"p":13,"v":-33,"t":-0.01},{"p":13,"v":-31,"t":0.06},{"p":13,"v":-29,"t":0.09},{"p":13,"v":-27,"t":0.03},{"p":13,"v":-25,"t":0.07},{"p":13,"v":-23,"t":0.02},{"p":13,"v":-21,"t":0.05},{"p":13,"v":-19,"t":-0.02},{"p":13,"v":-17,"t":0.03},{"p":13,"v":-15,"t":0.0},{"p":13,"v":-13,"t":-0.03},{"p":13,"v":-11,"t":0.02},{"p":13,"v":-9,"t":0.04},{"p":13,"v":-7,"t":-0.02},{"p":13,"v":-5,"t":0.01},{"p":13,"v":-3,"t":0.03},{"p":13,"v":-1,"t":-0.04},{"p":13,"v":1,"t":-0.01},{"p":13,"v":3,"t":-0.05},{"p":13,"v":5,"t":0.01},{"p":13,"v":7,"t":-0.03},{"p":13,"v":9,"t":-0.06},{"p":13,"v":11,"t":0.0},{"p":13,"v":13,"t":-0.04},{"p":13,"v":15,"t":-0.02},{"p":13,"v":17,"t":-0.07},{"p":13,"v":19,"t":-0.01},{"p":13,"v":21,"t":-0.05},{"p":13,"v":23,"t":0.02},{"p":13,"v":25,"t":-0.03},{"p":13,"v":27,"t":0.04},{"p":13,"v":29,"t":-0.02},{"p":13,"v":31,"t":0.05},{"p":13,"v":33,"t":0.01},{"p":13,"v":35,"t":0.07},{"p":13,"v":37,"t":0.02},{"p":13,"v":39,"t":-0.01},{"p":13,"v":41,"t":0.06},{"p":13,"v":43,"t":0.03},{"p":13,"v":45,"t":0.05},

{"p":14,"v":-53,"t":0.04},{"p":14,"v":-51,"t":0.02},{"p":14,"v":-49,"t":-0.03},{"p":14,"v":-47,"t":0.05},{"p":14,"v":-45,"t":0.01},{"p":14,"v":-43,"t":0.03},{"p":14,"v":-41,"t":-0.04},{"p":14,"v":-39,"t":0.02},{"p":14,"v":-37,"t":0.06},{"p":14,"v":-35,"t":-0.02},{"p":14,"v":-33,"t":0.03},{"p":14,"v":-31,"t":0.05},{"p":14,"v":-29,"t":-0.03},{"p":14,"v":-27,"t":0.01},{"p":14,"v":-25,"t":0.04},{"p":14,"v":-23,"t":-0.05},{"p":14,"v":-21,"t":0.02},{"p":14,"v":-19,"t":0.06},{"p":14,"v":-17,"t":-0.01},{"p":14,"v":-15,"t":0.03},{"p":14,"v":-13,"t":0.0},{"p":14,"v":-11,"t":0.05},{"p":14,"v":-9,"t":0.02},{"p":14,"v":-7,"t":-0.03},{"p":14,"v":-5,"t":0.04},{"p":14,"v":-3,"t":0.06},{"p":14,"v":-1,"t":-0.02},{"p":14,"v":1,"t":0.01},{"p":14,"v":3,"t":0.05},{"p":14,"v":5,"t":-0.04},{"p":14,"v":7,"t":0.02},{"p":14,"v":9,"t":0.03},{"p":14,"v":11,"t":-0.06},{"p":14,"v":13,"t":0.04},{"p":14,"v":15,"t":0.01},{"p":14,"v":17,"t":-0.03},{"p":14,"v":19,"t":0.05},{"p":14,"v":21,"t":0.02},{"p":14,"v":23,"t":0.07},{"p":14,"v":25,"t":-0.02},{"p":14,"v":27,"t":0.03},{"p":14,"v":29,"t":-0.05},{"p":14,"v":31,"t":0.04},{"p":14,"v":33,"t":0.06},{"p":14,"v":35,"t":-0.01},{"p":14,"v":37,"t":0.09},{"p":14,"v":39,"t":0.02},{"p":14,"v":41,"t":0.05},{"p":14,"v":43,"t":-0.03},{"p":14,"v":45,"t":0.04},

{"p":15,"v":-53,"t":0.01},{"p":15,"v":-51,"t":-0.03},{"p":15,"v":-49,"t":0.04},{"p":15,"v":-47,"t":0.02},{"p":15,"v":-45,"t":0.05},{"p":15,"v":-43,"t":-0.02},{"p":15,"v":-41,"t":0.03},{"p":15,"v":-39,"t":0.06},{"p":15,"v":-37,"t":-0.04},{"p":15,"v":-35,"t":0.02},{"p":15,"v":-33,"t":0.05},{"p":15,"v":-31,"t":0.01},{"p":15,"v":-29,"t":-0.03},{"p":15,"v":-27,"t":0.04},{"p":15,"v":-25,"t":0.07},{"p":15,"v":-23,"t":-0.01},{"p":15,"v":-21,"t":0.03},{"p":15,"v":-19,"t":0.05},{"p":15,"v":-17,"t":-0.02},{"p":15,"v":-15,"t":0.04},{"p":15,"v":-13,"t":0.01},{"p":15,"v":-11,"t":0.06},{"p":15,"v":-9,"t":-0.04},{"p":15,"v":-7,"t":0.03},{"p":15,"v":-5,"t":0.02},{"p":15,"v":-3,"t":0.08},{"p":15,"v":-1,"t":0.04},{"p":15,"v":1,"t":-0.03},{"p":15,"v":3,"t":0.06},{"p":15,"v":5,"t":0.05},{"p":15,"v":7,"t":0.02},{"p":15,"v":9,"t":0.07},{"p":15,"v":11,"t":-0.02},{"p":15,"v":13,"t":0.04},{"p":15,"v":15,"t":0.06},{"p":15,"v":17,"t":0.03},{"p":15,"v":19,"t":-0.03},{"p":15,"v":21,"t":0.05},{"p":15,"v":23,"t":0.07},{"p":15,"v":25,"t":0.02},{"p":15,"v":27,"t":-0.04},{"p":15,"v":29,"t":0.04},{"p":15,"v":31,"t":0.06},{"p":15,"v":33,"t":-0.02},{"p":15,"v":35,"t":0.03},{"p":15,"v":37,"t":0.05},{"p":15,"v":39,"t":0.01},{"p":15,"v":41,"t":-0.04},{"p":15,"v":43,"t":0.02},{"p":15,"v":45,"t":0.05},

{"p":0,"v":-53.5,"b":-0.01},{"p":0,"v":46.5,"b":-0.01},
{"p":1,"v":-53.5,"b":-0.01},{"p":1,"v":46.5,"b":-0.01},
{"p":2,"v":-53.5,"b":0.0},{"p":2,"v":46.5,"b":0.0},
{"p":3,"v":-53.5,"b":0.01},{"p":3,"v":46.5,"b":0.01},
{"p":4,"v":-53.5,"b":-0.01},{"p":4,"v":46.5,"b":-0.01},
{"p":5,"v":-53.5,"b":-0.01},{"p":5,"v":46.5,"b":-0.01},
{"p":6,"v":-53.5,"b":0.0},{"p":6,"v":46.5,"b":0.0},
{"p":7,"v":-53.5,"b":0.01},{"p":7,"v":46.5,"b":0.01},
{"p":8,"v":-53.5,"b":-0.01},{"p":8,"v":46.5,"b":-0.01},
{"p":9,"v":-53.5,"b":0.0},{"p":9,"v":46.5,"b":0.0},
{"p":10,"v":-53.5,"b":0.0},{"p":10,"v":46.5,"b":0.0},
{"p":11,"v":-53.5,"b":0.0},{"p":11,"v":46.5,"b":0.0},
{"p":12,"v":-53.5,"b":0.01},{"p":12,"v":46.5,"b":-0.02},
{"p":13,"v":-53.5,"b":0.03},{"p":13,"v":-35,"b":0.03},{"p":13,"v":-20,"b":0.01},{"p":13,"v":0,"b":-0.03},{"p":13,"v":15,"b":-0.05},{"p":13,"v":30,"b":-0.03},{"p":13,"v":46.5,"b":0.0},
{"p":14,"v":-53.5,"b":0.0},{"p":14,"v":46.5,"b":0.0},
{"p":15,"v":-53.5,"b":0.01},{"p":15,"v":46.5,"b":0.01},

{"p":0,"r":-3.5},{"p":1,"r":-3.5},{"p":2,"r":-3.5},{"p":3,"r":-3.5},{"p":4,"r":-3.5},{"p":5,"r":-3.5},{"p":6,"r":-3.5},{"p":7,"r":-3.5},{"p":8,"r":-3.5},{"p":9,"r":-3.5},{"p":10,"r":-3.5},{"p":11,"r":-3.5},{"p":12,"r":-3.5},{"p":13,"r":-3.5},{"p":14,"r":-3.5},{"p":15,"r":-3.5},

{"p":0,"l":0,"n":"HCO⁺ (1-0)"},{"p":0,"l":1,"n":"Tₚₑₐₖ","s":"1.41"},{"p":0,"l":2,"n":"Vᵖᵉᵃᵏ","s":"-3.5"},{"p":0,"l":3,"n":"ΔV","s":"3.2"},{"p":0,"l":4,"n":"S/N","s":"23.4"},
{"p":1,"l":0,"n":"HNC (1-0)"},{"p":1,"l":1,"n":"Tₚₑₐₖ","s":"0.64"},{"p":1,"l":2,"n":"Vᵖᵉᵃᵏ","s":"-3.5"},{"p":1,"l":3,"n":"ΔV","s":"3.2"},{"p":1,"l":4,"n":"S/N","s":"12.5"},
{"p":2,"l":0,"n":"N₂H⁺ (1-0)"},
{"p":3,"l":0,"n":"¹³C³⁴S (2-1)"},
{"p":4,"l":0,"n":"¹³CS (2-1)"},
{"p":5,"l":0,"n":"C₂H (1-0, 3/2-1/2)"},{"p":5,"l":1,"n":"Tₚₑₐₖ","s":"0.47"},{"p":5,"l":2,"n":"Vᵖᵉᵃᵏ","s":"-3.1"},{"p":5,"l":3,"n":"ΔV","s":"4.4"},{"p":5,"l":4,"n":"S/N","s":"10.2"},
{"p":6,"l":0,"n":"CH₃CN (5₁-4₁)"},
{"p":7,"l":0,"n":"H¹³CO⁺ (1-0)"},
{"p":8,"l":0,"n":"H 41α"},
{"p":9,"l":0,"n":"HC¹³CCN (10-9)"},
{"p":10,"l":0,"n":"HC₃N (10-9)"},
{"p":11,"l":0,"n":"HCN (1-0)"},{"p":11,"l":1,"n":"Tₚₑₐₖ","s":"1.17"},{"p":11,"l":2,"n":"Vᵖᵉᵃᵏ","s":"-3.5"},{"p":11,"l":3,"n":"ΔV","s":"3.2"},{"p":11,"l":4,"n":"S/N","s":"30.5"},
{"p":12,"l":0,"n":"HN¹³C (1-0)"},
{"p":13,"l":0,"n":"HNCO (4₀,₄-3₀,₃)"},
{"p":14,"l":0,"n":"HNCO (4₁,₃-3₁,₂)"},
{"p":15,"l":0,"n":"SiO (2-1)"}
]},
"transform":[{"calculate":"floor(datum.p/4)","as":"row"},{"calculate":"datum.p%4","as":"col"}],
"facet":{
 "row":{"field":"row","type":"ordinal","header":{"title":"Tₐ* (K)","labels":false,"titleOrient":"left","titleFontSize":11,"titleFontWeight":"normal","titleFont":"Liberation Sans","titleColor":"#000","titlePadding":10}},
 "column":{"field":"col","type":"ordinal","header":{"title":"Velocity (km/s)","labels":false,"titleOrient":"bottom","titleFontSize":11,"titleFontWeight":"normal","titleFont":"Liberation Sans","titleColor":"#000","titlePadding":2}}
},
"spacing":{"row":0,"column":0},
"spec":{
"width":100,"height":85,
"layer":[
{"transform":[{"filter":"isValid(datum.r)"}],"mark":{"type":"rule","color":"#555","strokeWidth":0.8,"strokeDash":[1,1.5]},"encoding":{"x":{"field":"r","type":"quantitative"}}},
{"transform":[{"filter":"isValid(datum.t)"}],"mark":{"type":"line","color":"#333","strokeWidth":0.7},
 "encoding":{
  "x":{"field":"v","type":"quantitative","scale":{"domain":[-53.5,46.5],"nice":false,"zero":false},
       "axis":{"title":null,"values":[-40,-20,0,20,40],"labelFontSize":7,"tickSize":-3,"labelPadding":5.5,"domain":false,"grid":false}},
  "y":{"field":"t","type":"quantitative","scale":{"domain":[-0.2,1.58],"nice":false,"zero":false},
       "axis":{"title":null,"values":[0,0.5,1,1.5],"format":".1f","labelFontSize":7,"tickSize":-3,"labelPadding":7,"domain":false,"grid":false}}}},
{"transform":[{"filter":"isValid(datum.b)"}],"mark":{"type":"line","color":"#ff0000","strokeWidth":1.3},"encoding":{"x":{"field":"v","type":"quantitative"},"y":{"field":"b","type":"quantitative"}}},
{"transform":[{"filter":"isValid(datum.f)"}],"mark":{"type":"line","color":"#00dd00","strokeWidth":1.2},"encoding":{"x":{"field":"v","type":"quantitative"},"y":{"field":"f","type":"quantitative"}}},
{"transform":[{"filter":"isValid(datum.n)"}],"mark":{"type":"text","align":"left","baseline":"middle","fontSize":7,"font":"Liberation Sans","color":"#000"},
 "encoding":{"x":{"datum":-48},"y":{"datum":1.5},"yOffset":{"field":"l","type":"quantitative","scale":{"domain":[0,4],"range":[0,22.4]}},"text":{"field":"n"}}},
{"transform":[{"filter":"isValid(datum.s)"}],"mark":{"type":"text","align":"left","baseline":"middle","fontSize":7,"font":"Liberation Sans","color":"#000"},
 "encoding":{"x":{"datum":-29},"y":{"datum":1.5},"yOffset":{"field":"l","type":"quantitative","scale":{"domain":[0,4],"range":[0,22.4]}},"text":{"field":"s"}}}
]},
"config":{"font":"Liberation Sans","view":{"stroke":"#000","strokeWidth":1},"facet":{"spacing":0},"axis":{"labelFont":"Liberation Sans","titleFont":"Liberation Sans","titleFontWeight":"normal","labelColor":"#000","titleColor":"#000","tickColor":"#000"}}
}
